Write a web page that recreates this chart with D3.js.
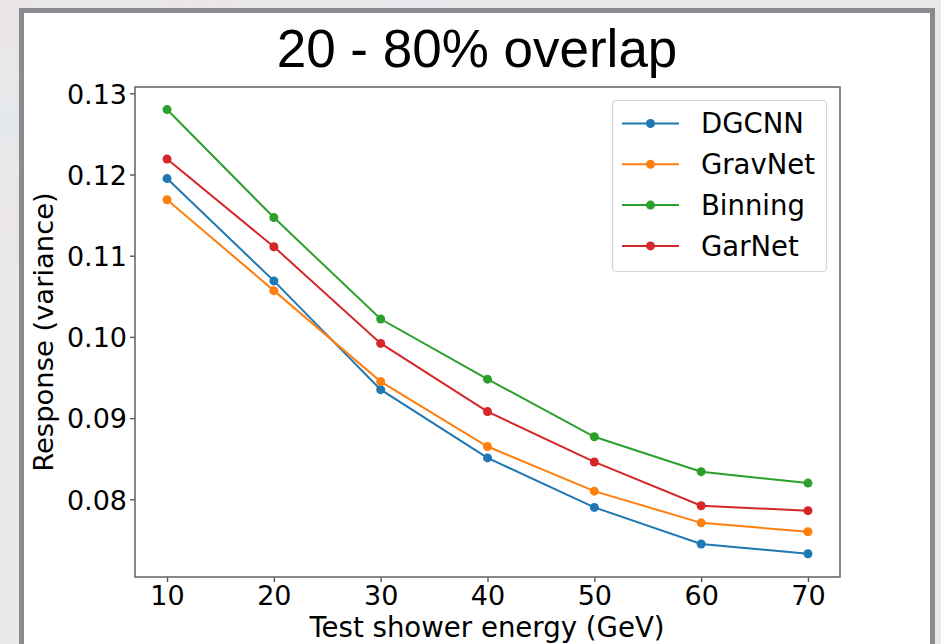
<!DOCTYPE html>
<html>
<head>
<meta charset="utf-8">
<script src="https://cdn.jsdelivr.net/npm/d3@7"></script>
<style>
  html, body { margin: 0; padding: 0; background: #e9e9ea; }
  svg { display: block; }
</style>
</head>
<body>
<svg id="chart" width="941" height="644"></svg>
<script>
// Test energies (GeV)
const energies = [10, 20, 30, 40, 50, 60, 70];

// Response variance per method
const dgcnn   = [0.1195, 0.1069, 0.0935, 0.0851, 0.0790, 0.0745, 0.0733];
const gravnet = [0.1169, 0.1057, 0.0945, 0.0865, 0.0810, 0.0771, 0.0760];
const binning = [0.1280, 0.1147, 0.1022, 0.0948, 0.0877, 0.0834, 0.0820];
const garnet  = [0.1219, 0.1111, 0.0992, 0.0908, 0.0846, 0.0792, 0.0786];

const seriesNames  = ["DGCNN", "GravNet", "Binning", "GarNet"];
const seriesValues = [dgcnn, gravnet, binning, garnet];
const seriesColors = ["#1f77b4", "#ff7f0e", "#2ca02c", "#d62728"];

const xTicks = [10, 20, 30, 40, 50, 60, 70];
const yTicks = [0.08, 0.09, 0.10, 0.11, 0.12, 0.13];

const titleText = "20 - 80% overlap";
const xLabel = "Test shower energy (GeV)";
const yLabel = "Response (variance)";

const svg = d3.select("#chart");

// Soft slide background behind the panel
const defs = svg.append("defs");
defs.append("filter").attr("id", "soft")
  .attr("x", "-50%").attr("y", "-50%").attr("width", "200%").attr("height", "200%")
  .append("feGaussianBlur").attr("stdDeviation", 14);
svg.append("rect").attr("width", 941).attr("height", 644).attr("fill", "#e9e9ea");
const blobs = svg.append("g").attr("filter", "url(#soft)").attr("opacity", 0.25);
[[10, 20, 30, "#f3d6dc"], [8, 120, 25, "#d6e4f0"], [6, 220, 30, "#f0e0e6"],
 [200, 0, 40, "#f0dcdc"], [420, 0, 35, "#e0e8f2"], [700, 0, 40, "#e6ecf2"],
 [940, 60, 20, "#e4e4ea"]].forEach(([cx, cy, r, c]) => {
  blobs.append("circle").attr("cx", cx).attr("cy", cy).attr("r", r).attr("fill", c);
});

// Panel with gray frame
svg.append("rect")
  .attr("x", 21.5).attr("y", 10.5).attr("width", 911).attr("height", 660)
  .attr("fill", "#ffffff").attr("stroke", "#888b90").attr("stroke-width", 5);

// Plot area
const plot = { left: 135, right: 840, top: 87, bottom: 577 };

const x = d3.scaleLinear().domain([7, 73]).range([plot.left, plot.right]);
const y = d3.scaleLinear().domain([0.07043, 0.13078]).range([plot.bottom, plot.top]);

// Title
svg.append("text")
  .attr("x", 477).attr("y", 67)
  .attr("text-anchor", "middle")
  .attr("font-family", "'Liberation Sans', Arial, sans-serif")
  .attr("font-size", 53)
  .attr("fill", "#000")
  .text(titleText);

const tickFont = "'DejaVu Sans', sans-serif";

// Axes
const xAxis = d3.axisBottom(x).tickValues(xTicks).tickSize(5).tickPadding(4)
  .tickFormat(d3.format("d"));
const yAxis = d3.axisLeft(y).tickValues(yTicks).tickSize(5).tickPadding(3)
  .tickFormat(d3.format(".2f"));

const gx = svg.append("g").attr("transform", `translate(0,${plot.bottom})`).call(xAxis);
const gy = svg.append("g").attr("transform", `translate(${plot.left},0)`).call(yAxis);

[gx, gy].forEach(g => {
  g.select(".domain").remove();
  g.selectAll(".tick line").attr("stroke", "#555").attr("stroke-width", 1.4);
  g.selectAll(".tick text")
    .attr("font-family", tickFont).attr("font-size", 27).attr("fill", "#000");
});
gx.selectAll(".tick text").attr("dy", "0.71em");
gy.selectAll(".tick text").attr("dy", "0.36em");

// Series lines and markers
const line = d3.line().x((d, i) => x(energies[i])).y(d => y(d));
seriesValues.forEach((vals, s) => {
  const g = svg.append("g");
  g.append("path")
    .attr("d", line(vals))
    .attr("fill", "none")
    .attr("stroke", seriesColors[s])
    .attr("stroke-width", 2);
  g.selectAll("circle").data(vals).join("circle")
    .attr("cx", (d, i) => x(energies[i]))
    .attr("cy", d => y(d))
    .attr("r", 4.5)
    .attr("fill", seriesColors[s]);
});

// Spines
svg.append("rect")
  .attr("x", plot.left).attr("y", plot.top)
  .attr("width", plot.right - plot.left).attr("height", plot.bottom - plot.top)
  .attr("fill", "none").attr("stroke", "#606060").attr("stroke-width", 1.5);

// Axis labels
svg.append("text")
  .attr("x", 487).attr("y", 637)
  .attr("text-anchor", "middle")
  .attr("font-family", tickFont).attr("font-size", 27.6).attr("fill", "#000")
  .text(xLabel);

svg.append("text")
  .attr("transform", `translate(53,332) rotate(-90)`)
  .attr("text-anchor", "middle")
  .attr("font-family", tickFont).attr("font-size", 27.4).attr("fill", "#000")
  .text(yLabel);

// Legend
const legend = svg.append("g");
legend.append("rect")
  .attr("x", 612.5).attr("y", 100.5).attr("width", 214).attr("height", 171)
  .attr("rx", 4).attr("ry", 4)
  .attr("fill", "#ffffff").attr("fill-opacity", 0.8)
  .attr("stroke", "#d5d5d5").attr("stroke-width", 1.2);

seriesNames.forEach((name, s) => {
  const ly = 123.5 + s * 40.8;
  legend.append("line")
    .attr("x1", 622).attr("x2", 679).attr("y1", ly).attr("y2", ly)
    .attr("stroke", seriesColors[s]).attr("stroke-width", 2);
  legend.append("circle")
    .attr("cx", 650.5).attr("cy", ly).attr("r", 4.5).attr("fill", seriesColors[s]);
  legend.append("text")
    .attr("x", 701).attr("y", ly).attr("dy", "0.36em")
    .attr("font-family", tickFont).attr("font-size", 27.5).attr("fill", "#000")
    .text(name);
});
</script>
</body>
</html>
